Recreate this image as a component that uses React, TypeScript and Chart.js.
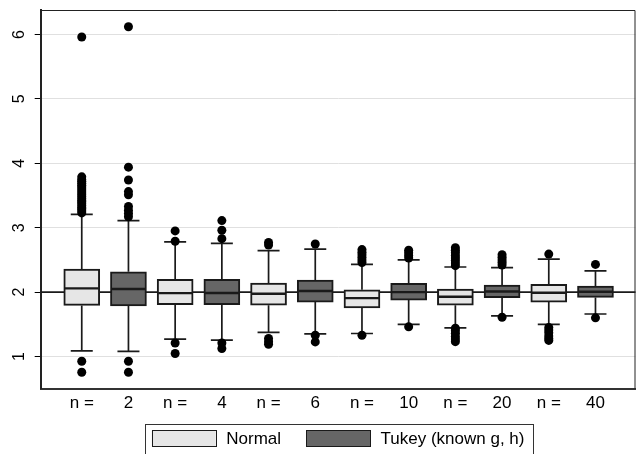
import React, { useEffect, useRef } from "react";
import { Chart, registerables } from "chart.js";

Chart.register(...registerables);

// Category tick labels (one per box position)
const xLabels = ["n =", "2", "n =", "4", "n =", "6", "n =", "10", "n =", "20", "n =", "40"];
const yTicks = [1, 2, 3, 4, 5, 6];
const referenceValue = 2;
const seriesNames = ["Normal", "Tukey (known g, h)"];

// Normal: n = 2, 4, 6, 10, 20, 40
const normalQ1 = [1.793, 1.803, 1.797, 1.756, 1.797, 1.845];
const normalMedian = [2.057, 1.984, 1.974, 1.907, 1.927, 1.99];
const normalQ3 = [2.358, 2.197, 2.14, 2.036, 2.047, 2.12];
const normalLow = [1.087, 1.27, 1.373, 1.357, 1.445, 1.5];
const normalHigh = [3.208, 2.78, 2.643, 2.43, 2.39, 2.513];
const normalOutliers = [
  [3.23, 3.26, 3.29, 3.31, 3.34, 3.37, 3.4, 3.42, 3.45, 3.48, 3.51, 3.54, 3.57, 3.6, 3.63, 3.66, 3.69, 3.72, 3.75, 3.79, 5.96, 0.927, 0.756],
  [2.95, 2.79, 1.21, 1.046],
  [2.77, 2.73, 1.28, 1.23, 1.19],
  [2.66, 2.62, 2.58, 2.54, 2.5, 2.46, 1.33],
  [2.69, 2.65, 2.61, 2.57, 2.53, 2.49, 2.45, 2.41, 1.44, 1.4, 1.36, 1.31, 1.27, 1.23],
  [2.59, 1.45, 1.41, 1.37, 1.32, 1.28, 1.25],
];

// Tukey (known g, h): n = 2, 4, 6, 10, 20, 40
const tukeyQ1 = [1.787, 1.803, 1.845, 1.876, 1.912, 1.917];
const tukeyMedian = [2.047, 1.987, 2.016, 2.0, 2.01, 2.005];
const tukeyQ3 = [2.316, 2.197, 2.187, 2.135, 2.109, 2.093];
const tukeyLow = [1.078, 1.254, 1.352, 1.5, 1.63, 1.66];
const tukeyHigh = [3.109, 2.757, 2.668, 2.5, 2.38, 2.33];
const tukeyOutliers = [
  [6.12, 3.94, 3.74, 3.56, 3.51, 3.33, 3.27, 3.22, 3.17, 0.927, 0.756],
  [3.11, 2.96, 2.83, 1.21, 1.124],
  [2.746, 1.33, 1.227],
  [2.65, 2.61, 2.57, 2.53, 1.46],
  [2.58, 2.54, 2.5, 2.46, 2.42, 1.61],
  [2.43, 1.6],
];

const normalFill = "#e6e6e6";
const tukeyFill = "#666666";
const lineColor = "#1a1a1a";
const FONT = "'Liberation Sans', Arial, Helvetica, sans-serif";

export default function App() {
  const ref = useRef<HTMLCanvasElement>(null);

  useEffect(() => {
    const canvas = ref.current;
    if (!canvas) return;

    const normalX = normalQ1.map((_, i) => 2 * i);
    const tukeyX = tukeyQ1.map((_, i) => 2 * i + 1);

    const boxes = [
      ...normalX.map((x, i) => ({ x, q1: normalQ1[i], med: normalMedian[i], q3: normalQ3[i], lo: normalLow[i], hi: normalHigh[i] })),
      ...tukeyX.map((x, i) => ({ x, q1: tukeyQ1[i], med: tukeyMedian[i], q3: tukeyQ3[i], lo: tukeyLow[i], hi: tukeyHigh[i] })),
    ];

    const outlierPoints = [
      ...normalOutliers.flatMap((arr, i) => arr.map((v) => ({ x: normalX[i], y: v }))),
      ...tukeyOutliers.flatMap((arr, i) => arr.map((v) => ({ x: tukeyX[i], y: v }))),
    ];

    const boxParts = {
      id: "boxParts",
      beforeDatasetsDraw(chart: any) {
        const { ctx, chartArea, scales } = chart;
        const xs = scales.x;
        const ys = scales.y;
        ctx.save();
        const yr = ys.getPixelForValue(referenceValue);
        ctx.strokeStyle = lineColor;
        ctx.lineWidth = 1.6;
        ctx.beginPath();
        ctx.moveTo(chartArea.left, yr);
        ctx.lineTo(chartArea.right, yr);
        ctx.stroke();
        ctx.lineWidth = 1.7;
        const capHalf = 11;
        for (const b of boxes) {
          const px = xs.getPixelForValue(b.x);
          const pq1 = ys.getPixelForValue(b.q1);
          const pq3 = ys.getPixelForValue(b.q3);
          const plo = ys.getPixelForValue(b.lo);
          const phi = ys.getPixelForValue(b.hi);
          ctx.beginPath();
          ctx.moveTo(px, pq3);
          ctx.lineTo(px, phi);
          ctx.moveTo(px - capHalf, phi);
          ctx.lineTo(px + capHalf, phi);
          ctx.moveTo(px, pq1);
          ctx.lineTo(px, plo);
          ctx.moveTo(px - capHalf, plo);
          ctx.lineTo(px + capHalf, plo);
          ctx.stroke();
        }
        ctx.restore();
      },
      afterDatasetsDraw(chart: any) {
        const { ctx, chartArea, scales } = chart;
        const xs = scales.x;
        const ys = scales.y;
        ctx.save();
        ctx.strokeStyle = lineColor;
        ctx.lineWidth = 2.4;
        for (const b of boxes) {
          const px = xs.getPixelForValue(b.x);
          const pm = ys.getPixelForValue(b.med);
          ctx.beginPath();
          ctx.moveTo(px - 17, pm);
          ctx.lineTo(px + 17, pm);
          ctx.stroke();
        }
        ctx.strokeStyle = "#222";
        ctx.lineWidth = 1;
        ctx.beginPath();
        ctx.moveTo(chartArea.left, chartArea.top + 0.5);
        ctx.lineTo(chartArea.right - 0.5, chartArea.top + 0.5);
        ctx.lineTo(chartArea.right - 0.5, chartArea.bottom);
        ctx.stroke();
        ctx.restore();
      },
      afterDraw(chart: any) {
        const { ctx, chartArea } = chart;
        const ds = chart.data.datasets.filter((d: any) => d.type === "bar");
        ctx.save();
        ctx.font = `17px ${FONT}`;
        const sw = 64;
        const sh = 16;
        const gapText = 10.5;
        const gapItem = 25;
        const widths = ds.map((d: any) => ctx.measureText(d.label).width);
        const total = widths.reduce((a: number, w: number) => a + sw + gapText + w, 0) + gapItem * (ds.length - 1);
        let x = (chartArea.left + chartArea.right - total) / 2;
        const top = 430.5;
        const frameL = x - 7;
        const frameR = x + total + 8;
        ctx.strokeStyle = "#333";
        ctx.lineWidth = 1;
        ctx.strokeRect(Math.round(frameL) + 0.5, 424.5, Math.round(frameR - frameL), 40);
        ds.forEach((d: any, i: number) => {
          ctx.fillStyle = d.backgroundColor;
          ctx.fillRect(x, top, sw, sh);
          ctx.strokeStyle = lineColor;
          ctx.lineWidth = 1;
          ctx.strokeRect(Math.round(x) + 0.5, top, sw, sh);
          ctx.fillStyle = "#000";
          ctx.textBaseline = "middle";
          ctx.textAlign = "left";
          ctx.fillText(d.label, x + sw + gapText, top + sh / 2 + 0.5);
          x += sw + gapText + widths[i] + gapItem;
        });
        ctx.restore();
      },
    };

    Chart.defaults.font.family = FONT;
    Chart.defaults.color = "#000";

    const chart = new Chart(canvas, {
      type: "bar",
      data: {
        datasets: [
          {
            type: "scatter" as any,
            label: "outliers",
            data: outlierPoints,
            backgroundColor: "#000",
            borderColor: "#000",
            pointRadius: 4.5,
            borderWidth: 0,
            order: 0,
          } as any,
          {
            type: "bar",
            label: seriesNames[0],
            data: normalX.map((x, i) => ({ x, y: [normalQ1[i], normalQ3[i]] })) as any,
            backgroundColor: normalFill,
            borderColor: lineColor,
            borderWidth: 2,
            borderSkipped: false,
            barThickness: 36,
            grouped: false,
            order: 1,
          },
          {
            type: "bar",
            label: seriesNames[1],
            data: tukeyX.map((x, i) => ({ x, y: [tukeyQ1[i], tukeyQ3[i]] })) as any,
            backgroundColor: tukeyFill,
            borderColor: lineColor,
            borderWidth: 2,
            borderSkipped: false,
            barThickness: 36,
            grouped: false,
            order: 1,
          },
        ],
      },
      options: {
        responsive: false,
        animation: false,
        events: [],
        layout: { padding: { top: 10, right: 0.7, left: 0, bottom: 35.3 } },
        plugins: { legend: { display: false }, tooltip: { enabled: false } },
        scales: {
          x: {
            type: "linear",
            offset: false,
            min: -0.879,
            max: 11.857,
            afterBuildTicks: (s: any) => {
              s.ticks = xLabels.map((_, i) => ({ value: i }));
            },
            afterFit: (s: any) => {
              s.height = 30;
              s.paddingLeft = 0;
              s.paddingRight = 0;
            },
            ticks: {
              autoSkip: false,
              maxRotation: 0,
              minRotation: 0,
              padding: 4,
              font: { size: 17 },
              callback: (v: any) => xLabels[Math.round(Number(v))] ?? "",
            },
            grid: { display: false, drawTicks: false },
            border: { display: true, color: "#333", width: 2 },
          },
          y: {
            type: "linear",
            min: 0.5,
            max: 6.38,
            afterBuildTicks: (s: any) => {
              s.ticks = yTicks.map((v) => ({ value: v }));
            },
            afterFit: (s: any) => {
              s.width = 40.7;
              s.paddingTop = 0;
              s.paddingBottom = 0;
            },
            ticks: {
              minRotation: 90,
              maxRotation: 90,
              crossAlign: "center",
              padding: 11,
              font: { size: 16 },
            },
            grid: {
              color: "#e0e0e0",
              lineWidth: 1,
              drawTicks: true,
              tickLength: 6,
              tickColor: "#000",
              tickWidth: 1,
            },
            border: { display: true, color: "#222", width: 2 },
          },
        },
      },
      plugins: [boxParts],
    });

    return () => chart.destroy();
  }, []);

  return (
    <div style={{ position: "fixed", left: 0, top: 0, width: 640, height: 454, background: "#fff" }}>
      <canvas ref={ref} width={640} height={454} style={{ display: "block" }} />
    </div>
  );
}
